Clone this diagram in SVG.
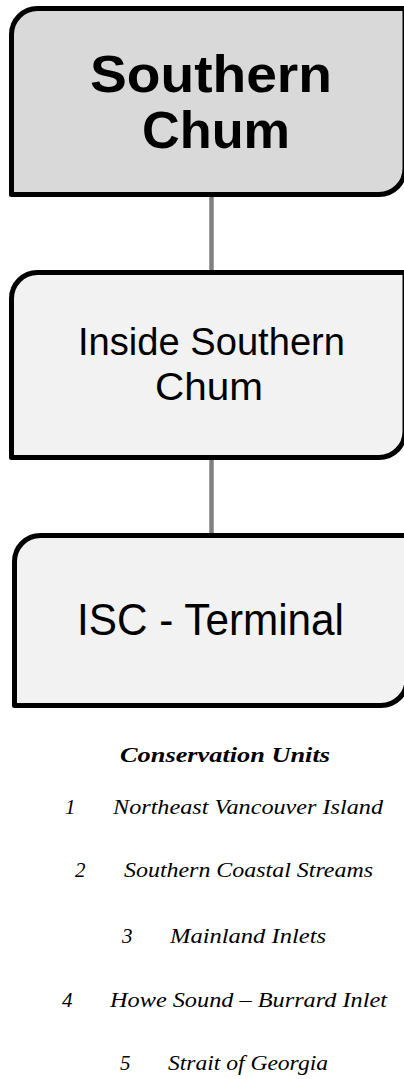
<svg xmlns="http://www.w3.org/2000/svg" width="404" height="1079" viewBox="0 0 404 1079">
<style>
.box{stroke:#000;stroke-width:5;stroke-linejoin:round}
.b1{fill:#d9d9d9}
.b2{fill:#f2f2f2}
.conn{stroke:#808080;stroke-width:4.5;fill:none}
.t{font-family:"Liberation Sans",Arial,sans-serif;fill:#000;text-anchor:middle}
.tb{font-weight:bold}
.leg{font-family:"Liberation Serif","Times New Roman",serif;font-style:italic;fill:#000}
</style>
<rect width="404" height="1079" fill="#fff"/>
<g id="connectors">
<line class="conn" x1="211.5" y1="196" x2="211.5" y2="271"/>
<line class="conn" x1="211.5" y1="459" x2="211.5" y2="534"/>
</g>
<g id="node-southern-chum">
<path class="box b1" d="M11.5,34.5 A26,26 0 0 1 37.5,8.5 H405 V168.5 A26,26 0 0 1 379,194.5 H11.5 Z"/>
<text class="t tb" x="211" y="92" font-size="52" textLength="242" lengthAdjust="spacingAndGlyphs">Southern</text>
<text class="t tb" x="216" y="148" font-size="52" textLength="148" lengthAdjust="spacingAndGlyphs">Chum</text>
</g>
<g id="node-inside-southern-chum">
<path class="box b2" d="M11.5,298.5 A26,26 0 0 1 37.5,272.5 H405 V431.5 A26,26 0 0 1 379,457.5 H11.5 Z"/>
<text class="t" x="211.5" y="355" font-size="39" textLength="267" lengthAdjust="spacingAndGlyphs">Inside Southern</text>
<text class="t" x="209" y="400" font-size="39" textLength="108" lengthAdjust="spacingAndGlyphs">Chum</text>
</g>
<g id="node-isc-terminal">
<path class="box b2" d="M14.5,561.5 A26,26 0 0 1 40.5,535.5 H407 V679.5 A26,26 0 0 1 381,705.5 H14.5 Z"/>
<text class="t" x="210.5" y="635" font-size="45" textLength="267" lengthAdjust="spacingAndGlyphs">ISC - Terminal</text>
</g>
<g id="legend">
<text class="leg" x="120" y="762" font-size="22" font-weight="bold" textLength="210" lengthAdjust="spacingAndGlyphs">Conservation Units</text>
<text class="leg" x="65" y="814" font-size="21">1</text>
<text class="leg" x="113" y="814" font-size="21" textLength="270" lengthAdjust="spacingAndGlyphs">Northeast Vancouver Island</text>
<text class="leg" x="75" y="877" font-size="21">2</text>
<text class="leg" x="124" y="877" font-size="21" textLength="249" lengthAdjust="spacingAndGlyphs">Southern Coastal Streams</text>
<text class="leg" x="122" y="943" font-size="21">3</text>
<text class="leg" x="170" y="943" font-size="21" textLength="156" lengthAdjust="spacingAndGlyphs">Mainland Inlets</text>
<text class="leg" x="62" y="1007" font-size="21">4</text>
<text class="leg" x="110" y="1007" font-size="21" textLength="277" lengthAdjust="spacingAndGlyphs">Howe Sound – Burrard Inlet</text>
<text class="leg" x="120" y="1070" font-size="21">5</text>
<text class="leg" x="168" y="1070" font-size="21" textLength="160" lengthAdjust="spacingAndGlyphs">Strait of Georgia</text>
</g>
</svg>
